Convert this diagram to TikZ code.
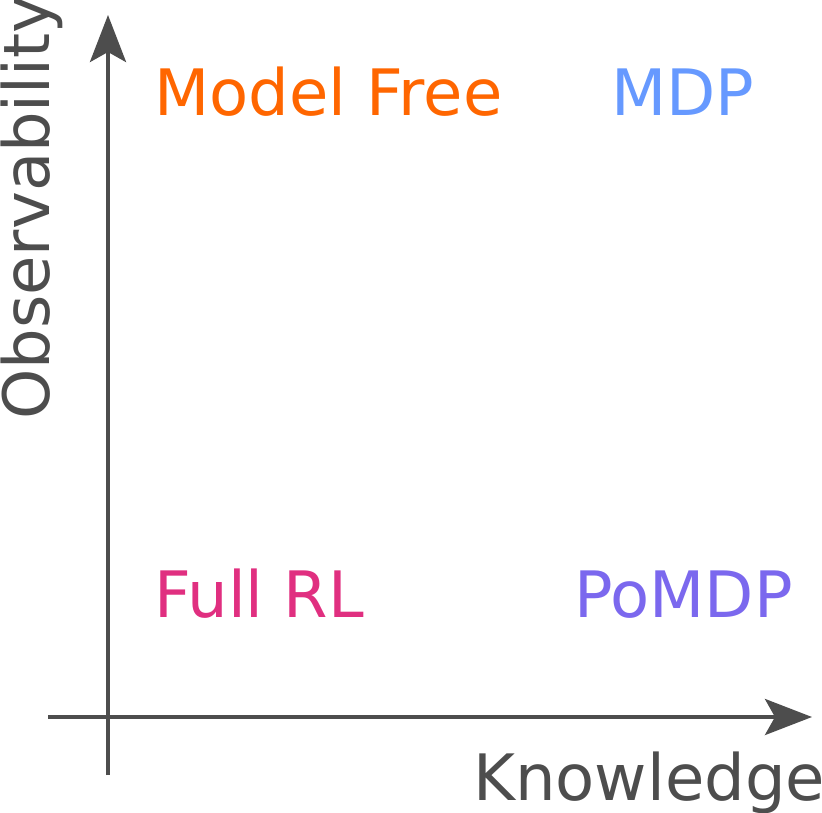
\documentclass[tikz,border=0pt]{standalone}
\usepackage{fontspec}
\setmainfont{DejaVu Sans}
\usetikzlibrary{arrows.meta}
\definecolor{axisgray}{HTML}{4D4D4D}
\definecolor{mfcol}{HTML}{FF6600}
\definecolor{mdpcol}{HTML}{6699FF}
\definecolor{rlcol}{HTML}{E02F80}
\definecolor{pocol}{HTML}{7B68EE}
\tikzset{
  axisline/.style={draw=axisgray, line width=4pt, -{Stealth[length=47pt, width=36pt, inset=10pt]}},
  lbl/.style={font=\fontsize{64}{64}\selectfont, anchor=base west, inner sep=0pt},
}
\begin{document}
\begin{tikzpicture}[x=1pt,y=-1pt]
\useasboundingbox (0,0) rectangle (822,813);
\coordinate (ystart) at (108,775);
\coordinate (yend) at (108,15);
\coordinate (xstart) at (48,717);
\coordinate (xend) at (812,717);
\draw[axisline] (ystart) -- (yend);
\draw[axisline] (xstart) -- (xend);
\node[lbl, text=mfcol] (mf) at (154,116) {Model Free};
\node[lbl, text=mdpcol] (mdp) at (611,116) {MDP};
\node[lbl, text=rlcol] (rl) at (154,617) {Full RL};
\node[lbl, text=pocol] (po) at (574,617) {PoMDP};
\node[lbl, text=axisgray] (kn) at (473,800) {Knowledge};
\node[lbl, text=axisgray, rotate=90] (ob) at (49,420) {Observability};
\end{tikzpicture}
\end{document}
